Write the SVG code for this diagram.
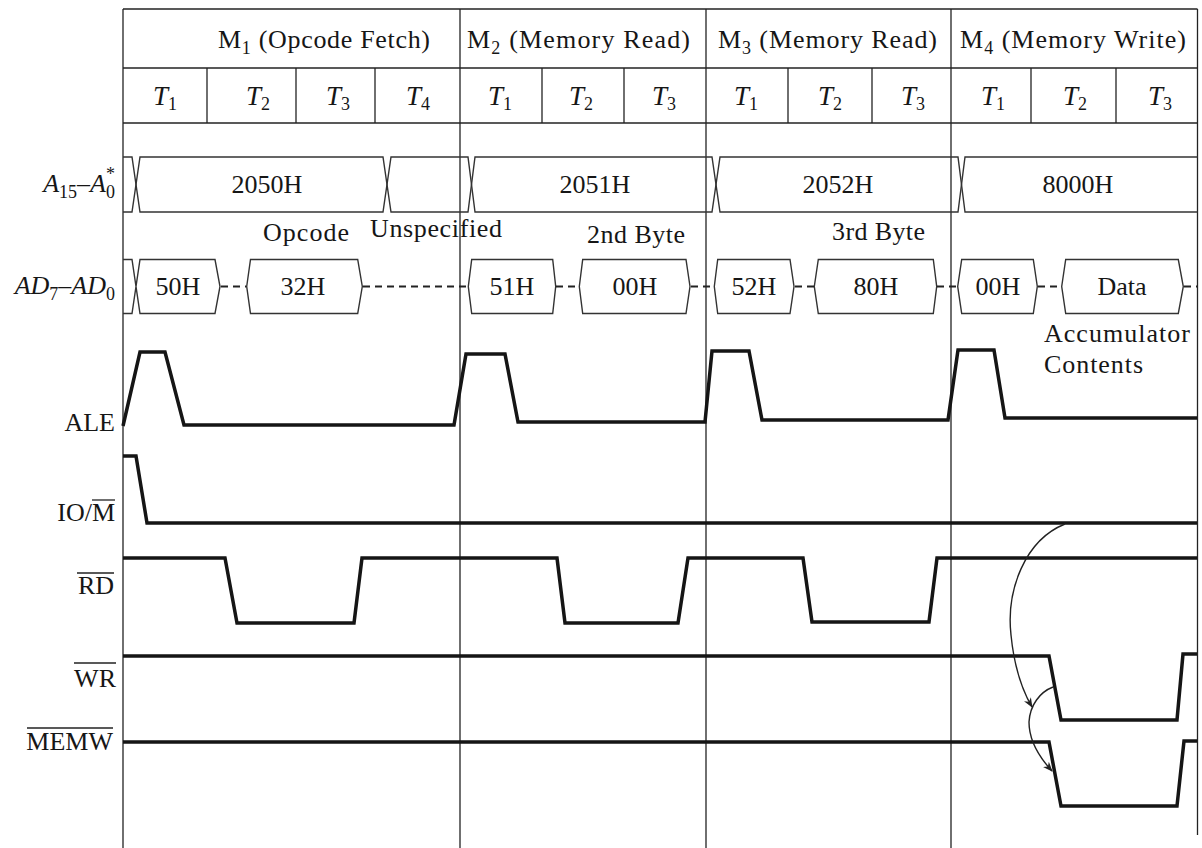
<svg xmlns="http://www.w3.org/2000/svg" width="1202" height="848" viewBox="0 0 1202 848">
<style>
.grid{stroke:#222;stroke-width:1.3;fill:none}
.bus{stroke:#333;stroke-width:1.4;fill:none}
.dash{stroke:#222;stroke-width:2;stroke-dasharray:7 5;fill:none}
.sig{stroke:#151515;stroke-width:3.5;fill:none;stroke-linejoin:miter}
.conn{stroke:#222;stroke-width:1.4;fill:none}
.t{font-family:"Liberation Serif","Times New Roman",serif;font-size:26px;fill:#161616}
.it{font-style:italic}
.ov{stroke:#222;stroke-width:1.3}
</style>
<defs>
<marker id="ah" viewBox="0 0 10 10" refX="9" refY="5" markerWidth="10" markerHeight="10" markerUnits="userSpaceOnUse" orient="auto">
<path d="M0,1 L10,5 L0,9 L3,5 Z" fill="#222"/>
</marker>
</defs>
<rect width="1202" height="848" fill="#fff"/>

<g id="grid" class="grid">
<line x1="123" y1="9" x2="1197.5" y2="9"/>
<line x1="123" y1="68" x2="1197.5" y2="68"/>
<line x1="123" y1="123" x2="1197.5" y2="123"/>
<line x1="123" y1="9" x2="123" y2="848"/>
<line x1="460" y1="9" x2="460" y2="848"/>
<line x1="706" y1="9" x2="706" y2="848"/>
<line x1="951" y1="9" x2="951" y2="848"/>
<line x1="1197.5" y1="9" x2="1197.5" y2="835"/>
<line x1="207" y1="68" x2="207" y2="123"/>
<line x1="296" y1="68" x2="296" y2="123"/>
<line x1="375" y1="68" x2="375" y2="123"/>
<line x1="542" y1="68" x2="542" y2="123"/>
<line x1="624" y1="68" x2="624" y2="123"/>
<line x1="788" y1="68" x2="788" y2="123"/>
<line x1="872" y1="68" x2="872" y2="123"/>
<line x1="1031" y1="68" x2="1031" y2="123"/>
<line x1="1116" y1="68" x2="1116" y2="123"/>
</g>

<g id="header" class="t">
<text x="218" y="48" textLength="212" lengthAdjust="spacing">M<tspan font-size="18" dy="6">1</tspan><tspan dy="-6"> (Opcode Fetch)</tspan></text>
<text x="467" y="48" textLength="223" lengthAdjust="spacing">M<tspan font-size="18" dy="6">2</tspan><tspan dy="-6"> (Memory Read)</tspan></text>
<text x="718" y="48" textLength="219" lengthAdjust="spacing">M<tspan font-size="18" dy="6">3</tspan><tspan dy="-6"> (Memory Read)</tspan></text>
<text x="960" y="48" textLength="226" lengthAdjust="spacing">M<tspan font-size="18" dy="6">4</tspan><tspan dy="-6"> (Memory Write)</tspan></text>
<g text-anchor="middle" font-size="27">
<text x="165" y="105"><tspan class="it">T</tspan><tspan font-size="18" dy="5">1</tspan></text>
<text x="258" y="105"><tspan class="it">T</tspan><tspan font-size="18" dy="5">2</tspan></text>
<text x="338" y="105"><tspan class="it">T</tspan><tspan font-size="18" dy="5">3</tspan></text>
<text x="418" y="105"><tspan class="it">T</tspan><tspan font-size="18" dy="5">4</tspan></text>
<text x="500" y="105"><tspan class="it">T</tspan><tspan font-size="18" dy="5">1</tspan></text>
<text x="581" y="105"><tspan class="it">T</tspan><tspan font-size="18" dy="5">2</tspan></text>
<text x="664" y="105"><tspan class="it">T</tspan><tspan font-size="18" dy="5">3</tspan></text>
<text x="746" y="105"><tspan class="it">T</tspan><tspan font-size="18" dy="5">1</tspan></text>
<text x="830" y="105"><tspan class="it">T</tspan><tspan font-size="18" dy="5">2</tspan></text>
<text x="913" y="105"><tspan class="it">T</tspan><tspan font-size="18" dy="5">3</tspan></text>
<text x="993" y="105"><tspan class="it">T</tspan><tspan font-size="18" dy="5">1</tspan></text>
<text x="1075" y="105"><tspan class="it">T</tspan><tspan font-size="18" dy="5">2</tspan></text>
<text x="1160" y="105"><tspan class="it">T</tspan><tspan font-size="18" dy="5">3</tspan></text>
</g>
</g>

<g id="labels" class="t" text-anchor="end">
<text x="115" y="192"><tspan class="it">A</tspan><tspan font-size="18" dy="6">15</tspan><tspan dy="-6">–</tspan><tspan class="it">A</tspan><tspan font-size="18" dy="6">0</tspan></text>
<text x="115" y="180" font-size="18" text-anchor="end">*</text>
<text x="115" y="294"><tspan class="it">AD</tspan><tspan font-size="18" dy="6">7</tspan><tspan dy="-6">–</tspan><tspan class="it">AD</tspan><tspan font-size="18" dy="6">0</tspan></text>
<text x="115" y="431">ALE</text>
<text x="115" y="521">IO/M</text>
<line class="ov" x1="92" y1="500" x2="115" y2="500"/>
<text x="114" y="594">RD</text>
<line class="ov" x1="77" y1="573" x2="114" y2="573"/>
<text x="116" y="687">WR</text>
<line class="ov" x1="74" y1="663" x2="116" y2="663"/>
<text x="113" y="750">MEMW</text>
<line class="ov" x1="27" y1="728" x2="113" y2="728"/>
</g>

<g id="address-bus">
<path class="bus" d="M123,157 H132 L140,212 H383 L391,157 H468 L475,212 H712 L720,157 H958 L965,212 H1197.5"/>
<path class="bus" d="M123,212 H132 L140,157 H383 L391,212 H468 L475,157 H712 L720,212 H958 L965,157 H1197.5"/>
<g class="t" text-anchor="middle">
<text x="267" y="193">2050H</text>
<text x="595" y="193">2051H</text>
<text x="838" y="193">2052H</text>
<text x="1078" y="193">8000H</text>
</g>
</g>

<g id="data-bus">
<path class="bus" d="M123,259.5 H132 L140,313.5 H215 L220,286.5 L215,259.5 H140 L132,313.5 H123"/>
<path class="bus" d="M246.7,286.5 L250.5,259.5 H357.7 L362.3,286.5 L357.7,313.5 H250.5 Z"/>
<path class="bus" d="M468.3,286.5 L471.7,259.5 H552.7 L555.7,286.5 L552.7,313.5 H471.7 Z"/>
<path class="bus" d="M579.3,286.5 L582.7,259.5 H686 L690,286.5 L686,313.5 H582.7 Z"/>
<path class="bus" d="M714.3,286.5 L717.7,259.5 H790 L794,286.5 L790,313.5 H717.7 Z"/>
<path class="bus" d="M814.3,286.5 L818.3,259.5 H933.3 L936.7,286.5 L933.3,313.5 H818.3 Z"/>
<path class="bus" d="M957.7,286.5 L961.7,259.5 H1033.3 L1037.3,286.5 L1033.3,313.5 H961.7 Z"/>
<path class="bus" d="M1061.7,286.5 L1065.7,259.5 H1178.3 L1183.3,286.5 L1178.3,313.5 H1065.7 Z"/>
<path class="dash" d="M221,286.5 H246 M363,286.5 H468 M556,286.5 H579 M691,286.5 H714 M795,286.5 H814 M937,286.5 H957 M1038,286.5 H1061 M1184,286.5 H1197"/>
<g class="t" text-anchor="middle">
<text x="178" y="295">50H</text>
<text x="303" y="295">32H</text>
<text x="512" y="295">51H</text>
<text x="635" y="295">00H</text>
<text x="754" y="295">52H</text>
<text x="876" y="295">80H</text>
<text x="998" y="295">00H</text>
<text x="1122" y="295">Data</text>
</g>
</g>

<g id="notes" class="t">
<text x="263" y="241" textLength="86" lengthAdjust="spacing">Opcode</text>
<text x="370" y="237" textLength="132" lengthAdjust="spacing">Unspecified</text>
<text x="587" y="243" textLength="98" lengthAdjust="spacing">2nd Byte</text>
<text x="832" y="240" textLength="93" lengthAdjust="spacing">3rd Byte</text>
<text x="1044" y="342" textLength="146" lengthAdjust="spacing">Accumulator</text>
<text x="1044" y="373" textLength="99" lengthAdjust="spacing">Contents</text>
</g>

<g id="signal-ALE"><polyline class="sig" points="123,426 140,352 165,352 184,425 454,425 466,354 505,354 518,422 705,422 712,351 749,351 762,420 948,420 958,350 994,350 1005,418 1197,418"/></g>
<g id="signal-IOM"><polyline class="sig" points="123,456 136,456 147,523 1197,523"/></g>
<g id="signal-RD"><polyline class="sig" points="123,558 225,558 237,623 354,623 362,558 557,558 565,623 678,623 688,558 803,558 812,622 929,622 937,558 1197,558"/></g>
<g id="signal-WR"><polyline class="sig" points="123,656 1049,656 1061,720 1177,720 1183,654 1197,654"/></g>
<g id="signal-MEMW"><polyline class="sig" points="123,742 1049,742 1061,806 1177,806 1184,741 1197,741"/></g>

<g id="connectors">
<path class="conn" marker-end="url(#ah)" d="M1065,524 C1025,540 1006,590 1011,635 C1014,665 1022,690 1032,707"/>
<path class="conn" marker-end="url(#ah)" d="M1053,687 C1040,692 1030,705 1029,722 C1029,740 1040,758 1052,771"/>
</g>
</svg>
